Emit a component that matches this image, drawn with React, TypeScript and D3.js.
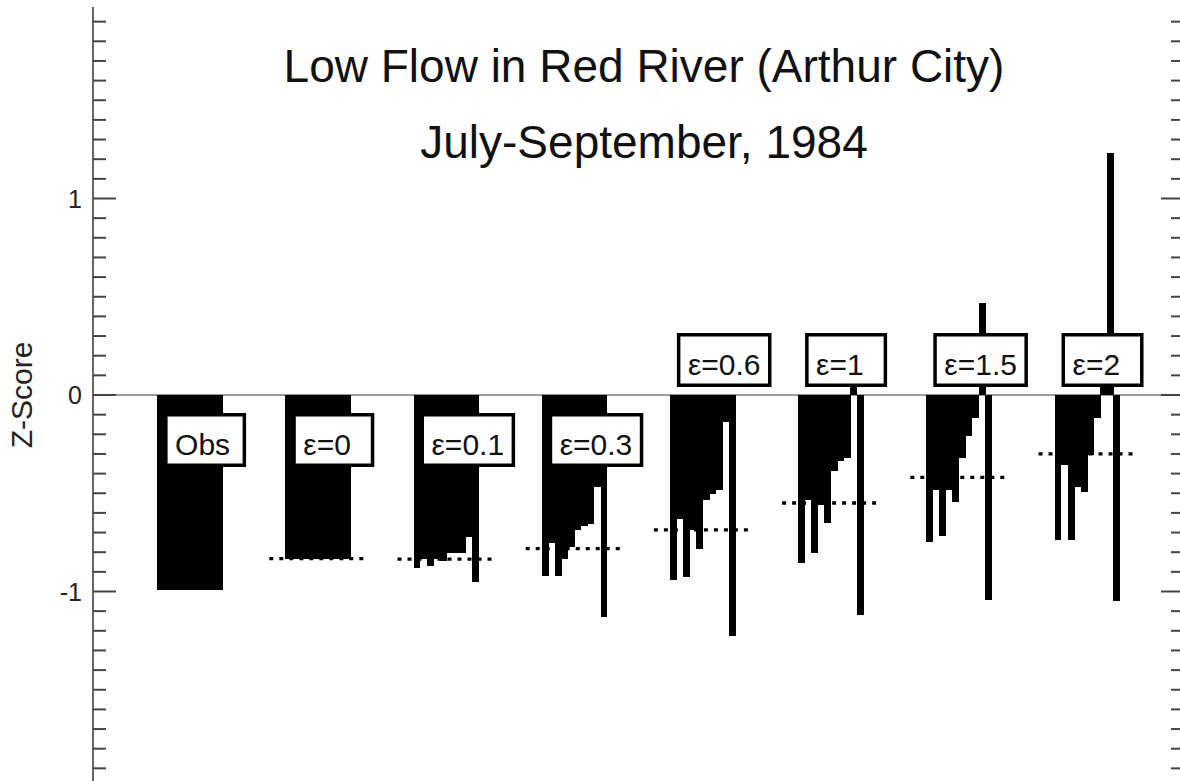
import React, { useMemo } from "react";
import * as d3 from "d3";

// ---- Data ----
const categories = ["Obs", "ε=0", "ε=0.1", "ε=0.3", "ε=0.6", "ε=1", "ε=1.5", "ε=2"];
const obsValues = [-0.99];
const eps0Values = [-0.833, -0.833, -0.833, -0.833, -0.833, -0.833, -0.833, -0.833, -0.833, -0.833];
const eps01Values = [-0.879, -0.837, -0.871, -0.837, -0.845, -0.803, -0.803, -0.803, -0.723, -0.952];
const eps03Values = [-0.923, -0.752, -0.923, -0.837, -0.774, -0.689, -0.667, -0.658, -0.468, -1.131];
const eps06Values = [-0.944, -0.633, -0.927, -0.689, -0.782, -0.536, -0.505, -0.485, -0.136, -1.224];
const eps1Values = [-0.856, -0.536, -0.803, -0.561, -0.651, -0.388, -0.335, -0.323, 0.08, -1.122];
const eps15Values = [-0.748, -0.481, -0.719, -0.481, -0.546, -0.323, -0.207, -0.119, 0.47, -1.042];
const eps2Values = [-0.74, -0.357, -0.74, -0.468, -0.493, -0.306, -0.119, 0.05, 1.23, -1.05];
const seriesValues = [obsValues, eps0Values, eps01Values, eps03Values, eps06Values, eps1Values, eps15Values, eps2Values];
const showMean = [false, true, true, true, true, true, true, true];
const yTickValues = [-1, 0, 1];
const yTickLabels = ["-1", "0", "1"];
const titleLine1 = "Low Flow in Red River (Arthur City)";
const titleLine2 = "July-September, 1984";
const yAxisTitle = "Z-Score";

const W = 1180;
const H = 781;
const FONT = '"Liberation Sans", Arial, sans-serif';

export default function App() {
  const x = d3.scaleBand<string>().domain(categories).range([93, 1184]).paddingInner(0.49).paddingOuter(0.5);
  const y = d3.scaleLinear().domain([-1, 1]).range([591.5, 198.5]);
  const y0 = y(0);
  const bw = x.bandwidth();

  const measure = useMemo(() => {
    const c = document.createElement("canvas").getContext("2d");
    return (t: string, size: number) => {
      if (!c) return t.length * size * 0.55;
      c.font = `${size}px "Liberation Sans", Arial, sans-serif`;
      return c.measureText(t).width;
    };
  }, []);

  const minorTicks = d3.range(-19, 20).map((i) => i / 10);

  return (
    <svg width={W} height={H} style={{ position: "absolute", left: 0, top: 0, background: "#fff" }} fontFamily={FONT}>
      <rect x={0} y={0} width={W} height={H} fill="#fff" />
      {/* titles */}
      <text x={644} y={82} fontSize={46} textAnchor="middle" fill="#111">{titleLine1}</text>
      <text x={644} y={158} fontSize={46} textAnchor="middle" fill="#111">{titleLine2}</text>

      {/* zero line */}
      <line x1={93} x2={1184} y1={y0} y2={y0} stroke="#777" strokeWidth={1.6} />

      {/* bars */}
      {categories.map((cat, ci) => {
        const vals = seriesValues[ci];
        const sub = d3.scaleBand<number>().domain(d3.range(vals.length)).range([x(cat)!, x(cat)! + bw]).padding(0);
        return (
          <g key={cat}>
            {vals.map((v, i) => (
              <rect
                key={i}
                x={sub(i)!}
                width={sub.bandwidth() + 0.4}
                y={y(Math.max(0, v))}
                height={Math.abs(y(v) - y0)}
                fill="#000"
                shapeRendering="crispEdges"
              />
            ))}
          </g>
        );
      })}

      {/* mean dotted lines */}
      {categories.map((cat, ci) => {
        if (!showMean[ci]) return null;
        const m = d3.mean(seriesValues[ci])!;
        return (
          <line
            key={"m" + cat}
            x1={x(cat)! - 16}
            x2={x(cat)! + bw + 16}
            y1={y(m)}
            y2={y(m)}
            stroke="#000"
            strokeWidth={3.3}
            strokeDasharray="4 6"
          />
        );
      })}

      {/* label boxes */}
      {categories.map((cat, ci) => {
        const tw = measure(cat, 30);
        const bwid = Math.max(tw + 22, 82);
        const left = x(cat)! + 7;
        const top = ci < 4 ? y0 + 18 : y0 - 62;
        const sw = 3.5;
        return (
          <g key={"l" + cat}>
            <rect x={left + sw / 2} y={top + sw / 2} width={bwid - sw} height={54 - sw} fill="#fff" stroke="#000" strokeWidth={sw} />
            <text x={left + 11} y={top + 42} fontSize={30} fill="#111">{cat}</text>
          </g>
        );
      })}

      {/* left axis */}
      <line x1={93} x2={93} y1={7} y2={H} stroke="#666" strokeWidth={2} />
      {minorTicks.map((t) => {
        const major = Math.abs(t - Math.round(t)) < 1e-6;
        const len = major ? 23 : 13;
        return (
          <g key={"t" + t}>
            <line x1={93} x2={93 + len} y1={y(t)} y2={y(t)} stroke="#444" strokeWidth={2} />
            <line x1={1184} x2={1184 - len} y1={y(t)} y2={y(t)} stroke="#444" strokeWidth={2} />
          </g>
        );
      })}
      <line x1={1184} x2={1184} y1={7} y2={H} stroke="#666" strokeWidth={2} />

      {yTickValues.map((t, i) => (
        <text key={"yl" + t} x={82} y={y(t)} dy="0.36em" fontSize={25} textAnchor="end" fill="#222">
          {yTickLabels[i]}
        </text>
      ))}

      <text transform={`translate(32,${y0}) rotate(-90)`} fontSize={30} textAnchor="middle" fill="#222">
        {yAxisTitle}
      </text>
    </svg>
  );
}
